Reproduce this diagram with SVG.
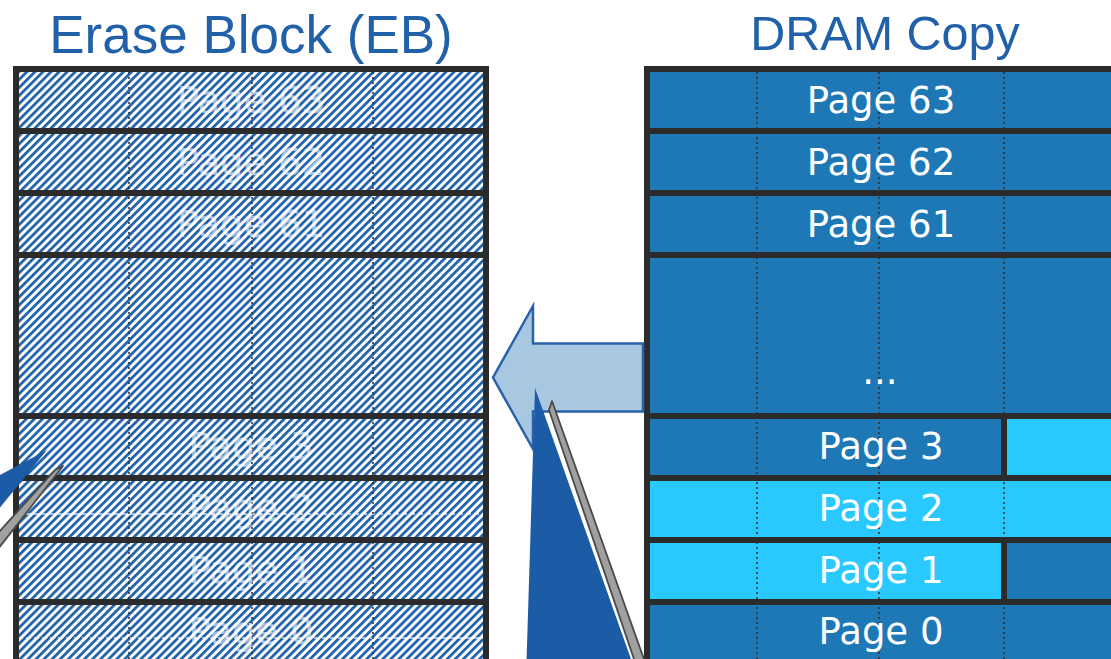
<svg xmlns="http://www.w3.org/2000/svg" width="1111" height="659" viewBox="0 0 1111 659">
  <style>
    .title { font-family: "Liberation Sans", Arial, sans-serif; fill: #2161a9; text-anchor: middle; }
    .page { font-family: "DejaVu Sans", Verdana, sans-serif; font-size: 37px; fill: #ffffff; text-anchor: middle; }
    .page-eb { fill-opacity: 0.62; }
    .sep { stroke: #2b2b2b; stroke-width: 6; fill: none; }
    .dot { stroke: #333333; stroke-width: 1.6; stroke-dasharray: 2 3; fill: none; }
    .wdash { stroke: #ffffff; stroke-width: 1.6; stroke-dasharray: 5 3; fill: none; opacity: 0.8; }
    .dark { fill: #1f78b6; }
    .cyan { fill: #29c9ff; }
    .callout { fill: #1c5ca6; }
    .shadow { fill: #a0a0a0; stroke: #4a4a4a; stroke-width: 1.8; stroke-linejoin: round; }
  </style>
  <defs>
    <pattern id="hatch" patternUnits="userSpaceOnUse" width="5.7" height="10" patternTransform="rotate(45)">
      <rect x="0" y="0" width="5.7" height="10" fill="#ffffff"/>
      <rect x="0" y="0" width="2.7" height="10" fill="#1c5fa8"/>
    </pattern>
  </defs>

  <rect x="0" y="0" width="1111" height="659" fill="#ffffff"/>

  <!-- Titles -->
  <g id="title-eb"><text class="title" x="251" y="53" font-size="53">Erase Block (EB)</text></g>
  <g id="title-dram"><text class="title" x="885" y="50" font-size="48.5">DRAM Copy</text></g>

  <!-- Erase Block -->
  <g id="erase-block">
    <rect x="16" y="69" width="470" height="600" fill="url(#hatch)"/>
    <line class="wdash" x1="18" y1="514" x2="484" y2="514"/>
    <line class="wdash" x1="18" y1="638" x2="484" y2="638"/>
    <line class="dot" x1="129" y1="72" x2="129" y2="659"/>
    <line class="dot" x1="252" y1="72" x2="252" y2="659"/>
    <line class="dot" x1="373" y1="72" x2="373" y2="659"/>
    <g id="eb-page63"><text class="page page-eb" x="251" y="113">Page 63</text></g>
    <g id="eb-page62"><text class="page page-eb" x="251" y="175">Page 62</text></g>
    <g id="eb-page61"><text class="page page-eb" x="251" y="237">Page 61</text></g>
    <g id="eb-page3"><text class="page page-eb" x="251" y="459">Page 3</text></g>
    <g id="eb-page2"><text class="page page-eb" x="251" y="521">Page 2</text></g>
    <g id="eb-page1"><text class="page page-eb" x="251" y="583">Page 1</text></g>
    <g id="eb-page0"><text class="page page-eb" x="251" y="644">Page 0</text></g>
    <path class="sep" d="M13,131 H489 M13,193 H489 M13,255 H489 M13,416 H489 M13,478 H489 M13,540 H489 M13,602 H489"/>
    <path class="sep" d="M16,665 V69 H486 V665"/>
  </g>

  <!-- DRAM Copy -->
  <g id="dram-copy">
    <rect class="dark" x="647" y="69" width="470" height="600"/>
    <rect class="cyan" x="1004" y="416" width="113" height="62"/>
    <rect class="cyan" x="647" y="478" width="470" height="62"/>
    <rect class="cyan" x="647" y="540" width="357" height="62"/>
    <line class="dot" x1="757" y1="72" x2="757" y2="659"/>
    <line class="dot" x1="879" y1="72" x2="879" y2="659"/>
    <line class="dot" x1="1004" y1="72" x2="1004" y2="659"/>
    <g id="dram-page63"><text class="page" x="881" y="113">Page 63</text></g>
    <g id="dram-page62"><text class="page" x="881" y="175">Page 62</text></g>
    <g id="dram-page61"><text class="page" x="881" y="237">Page 61</text></g>
    <g id="dram-dots"><text class="page" x="880" y="384">...</text></g>
    <g id="dram-page3"><text class="page" x="881" y="459">Page 3</text></g>
    <g id="dram-page2"><text class="page" x="881" y="521">Page 2</text></g>
    <g id="dram-page1"><text class="page" x="881" y="583">Page 1</text></g>
    <g id="dram-page0"><text class="page" x="881" y="644">Page 0</text></g>
    <path class="sep" d="M644,131 H1111 M644,193 H1111 M644,255 H1111 M644,416 H1111 M644,478 H1111 M644,540 H1111 M644,602 H1111"/>
    <path class="sep" d="M1004,416 V478 M1004,540 V602"/>
    <path class="sep" d="M647,665 V69 H1117"/>
  </g>

  <!-- Connectors -->
  <g id="connectors">
    <polygon id="copy-arrow" points="643,343.5 533,343.5 533,306 493,377.5 533,449 533,411.5 643,411.5" fill="#a8c8e2" stroke="#2a62a8" stroke-width="2.5" stroke-linejoin="miter"/>
    <polygon id="callout-mid-shadow" class="shadow" points="552,401 645,662 635,662 549,410"/>
    <polygon id="callout-mid" class="callout" points="535,388 632,662 526.5,662"/>
    <polygon id="callout-left-shadow" class="shadow" points="63,466 -2,549 -2,533 55,470"/>
    <polygon id="callout-left" class="callout" points="47,450 -2,476 -2,510"/>
  </g>
</svg>
